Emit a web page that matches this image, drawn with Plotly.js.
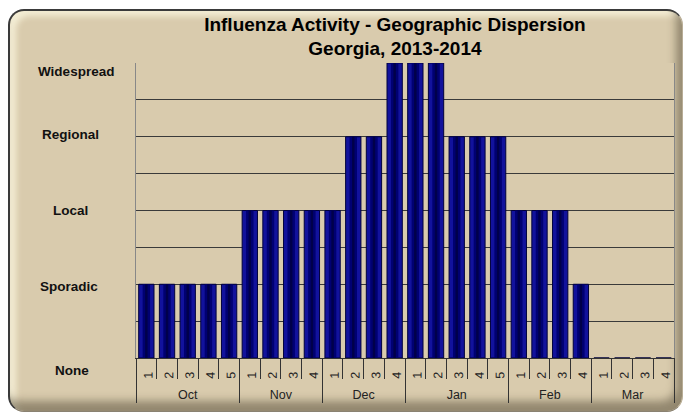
<!DOCTYPE html>
<html>
<head>
<meta charset="utf-8">
<script src="https://cdn.plot.ly/plotly-3.0.1.min.js"></script>
<style>
html,body{margin:0;padding:0;background:#ffffff;}
#wrap{position:relative;width:688px;height:419px;overflow:hidden;background:#fff;}
#frame{position:absolute;left:8px;top:9px;width:675px;height:403px;box-sizing:border-box;
  border-radius:16px;border-left:2px solid #3a3a3a;border-top:2px solid #3a3a3a;border-right:1px solid #b8ad96;border-bottom:1px solid #8a8272;
  background:#d9cbad;
  box-shadow: inset -6px -10px 8px rgba(90,80,60,0.55), inset 6px 5px 6px rgba(255,252,230,0.7);}
#chart{position:absolute;left:0;top:0;width:688px;height:419px;}
</style>
</head>
<body>
<div id="wrap"><div id="frame"></div><div id="chart"></div></div>
<script>
// Data
var months = ['Oct','Oct','Oct','Oct','Oct','Nov','Nov','Nov','Nov','Dec','Dec','Dec','Dec','Jan','Jan','Jan','Jan','Jan','Feb','Feb','Feb','Feb','Mar','Mar','Mar','Mar'];
var weeks  = ['1','2','3','4','5','1','2','3','4','1','2','3','4','1','2','3','4','5','1','2','3','4','1','2','3','4'];
var activity = [1,1,1,1,1,2,2,2,2,2,3,3,4,4,4,3,3,3,2,2,2,1,0,0,0,0];
var levelNames = ['None','Sporadic','Local','Regional','Widespread'];
var levelValues = [0,1,2,3,4];

// label placement (pixels)
var levelShift = [-12,-2,0,2,-8];
var levelCenterPx = [71.5,69,70,70.5,75.5];
var plotLeft = 136, plotWidth = 538;

var x = [months, weeks];
var traces = [
  {type:'bar', x:x, y:activity, width:0.74,
   marker:{color:'#12129c', line:{color:'#00003c', width:1}}, hoverinfo:'y'},
  {type:'bar', x:x, y:activity, width:0.36,
   marker:{color:'#000072', line:{width:0}}, hoverinfo:'skip'},
  {type:'bar', x:x, y:activity, width:0.12,
   marker:{color:'#00004a', line:{width:0}}, hoverinfo:'skip'}
];

var annotations = levelNames.map(function(n,i){
  return {xref:'paper', yref:'y', x:(levelCenterPx[i]-plotLeft)/plotWidth, y:levelValues[i], yshift:levelShift[i],
    text:'<b>'+n+'</b>', showarrow:false, xanchor:'center', yanchor:'middle',
    font:{family:'Liberation Sans, Arial, sans-serif', size:13.5, color:'#111'}};
});

var layout = {
  width:688, height:419,
  margin:{l:plotLeft, r:688-plotLeft-plotWidth, t:63, b:61},
  paper_bgcolor:'rgba(0,0,0,0)',
  plot_bgcolor:'#d9cbad',
  barmode:'overlay',
  showlegend:false,
  title:{text:'<b>Influenza Activity - Geographic Dispersion<br>Georgia, 2013-2014</b>',
    x:0.574, xanchor:'center', xref:'container', y:0.927, yanchor:'top', yref:'container',
    font:{family:'Liberation Sans, Arial, sans-serif', size:19, color:'#000'}},
  xaxis:{type:'multicategory', tickson:'boundaries', ticks:'outside', ticklen:20, tickcolor:'#333',
    tickangle:-89.9, ticklabelstandoff:4, showdividers:true, dividercolor:'#333', dividerwidth:1,
    tickfont:{family:'Liberation Sans, Arial, sans-serif', size:12.5, color:'#222'},
    showline:true, linecolor:'#333', linewidth:1, showgrid:false, zeroline:false},
  yaxis:{range:[0,4], dtick:0.5, showticklabels:false, ticks:'', showgrid:true,
    gridcolor:'#3a3a3a', gridwidth:1, zeroline:false, showline:true, linecolor:'#888', mirror:true, linewidth:1},
  annotations:annotations,
  bargap:0.26
};
Plotly.newPlot('chart', traces, layout, {displayModeBar:false, staticPlot:true});
</script>
</body>
</html>
